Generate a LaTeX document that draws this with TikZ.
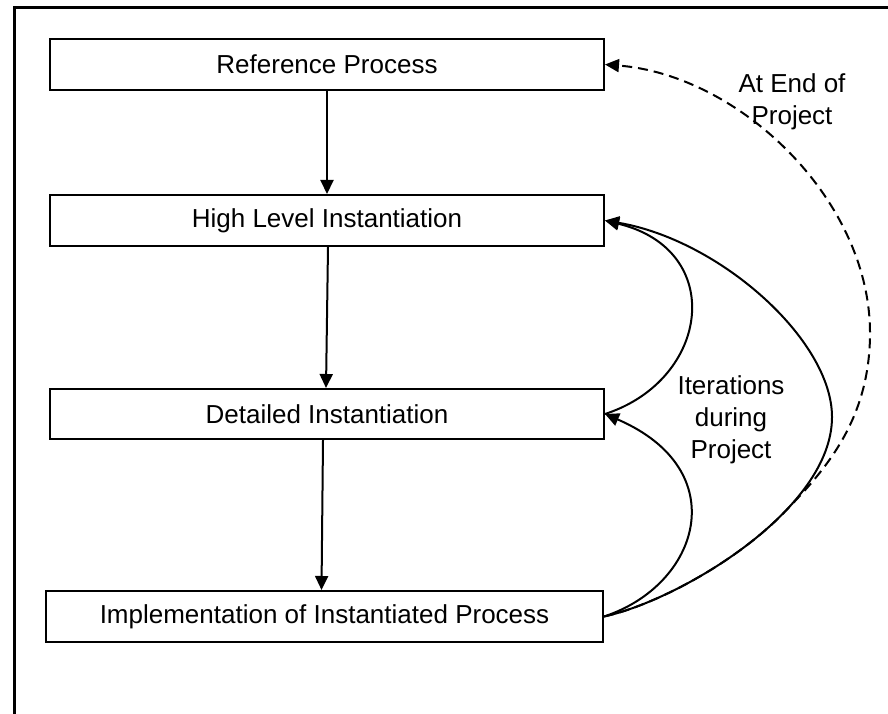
\documentclass[tikz,border=0pt]{standalone}
\usepackage{fontspec}
\setmainfont{Liberation Sans}
\usetikzlibrary{arrows.meta}
\begin{document}
\begin{tikzpicture}[x=1pt,y=-1pt,
  stepbox/.style={draw, line width=2pt, rectangle, inner sep=0pt,
    minimum height=51pt, font=\fontsize{26}{32}\selectfont},
  flow/.style={line width=2pt, -{Triangle[length=14pt,width=13pt]}},
  lbl/.style={align=center, inner sep=0pt, font=\fontsize{26}{32}\selectfont}]

\useasboundingbox (0,0) rectangle (888,714);

% outer frame (only its left and top sides fall inside the page)
\draw[line width=3pt, line join=miter] (14,720) -- (14,8) -- (894,8);

% process levels
\node[stepbox, minimum width=554pt] (ref)  at (327,64.5)  {Reference Process};
\node[stepbox, minimum width=554pt] (high) at (327,220.5) {High Level Instantiation};
\node[stepbox, minimum width=554pt, minimum height=50pt] (det) at (327,414) {Detailed Instantiation};
\node[stepbox, minimum width=557pt] (impl) at (324.5,616.5) {Implementation of Instantiated Process};

% top-down refinement
\draw[flow] (ref.south) -- (high.north);
\draw[flow] ([xshift=1pt]high.south) -- ([xshift=-1pt]det.north);
\draw[flow] ([xshift=-4pt]det.south) -- ([xshift=-3pt]impl.north);

% feedback loops
\draw[flow] (impl.east) .. controls (700,585) and (735,470) .. (det.east);
\draw[flow] (det.east) .. controls (710,380) and (727,250) .. (high.east);
\draw[flow] (impl.east) .. controls (680,600) and (832,510) .. (832,417)
                        .. controls (832,340) and (720,240) .. (high.east);
% end-of-project feedback shares the first stretch of the outer loop
\draw[flow, dash pattern=on 10pt off 6pt] (impl.east)
      .. controls (653,606) and (735,564) .. (786,510.5)
      .. controls (825,470) and (870,420) .. (870,333)
      .. controls (870,200) and (740,75) .. (ref.east);

% loop labels
\node[lbl] (endlbl)  at (792,102) {At End of\\Project};
\node[lbl] (iterlbl) at (731,420) {Iterations\\during\\Project};
\end{tikzpicture}
\end{document}
